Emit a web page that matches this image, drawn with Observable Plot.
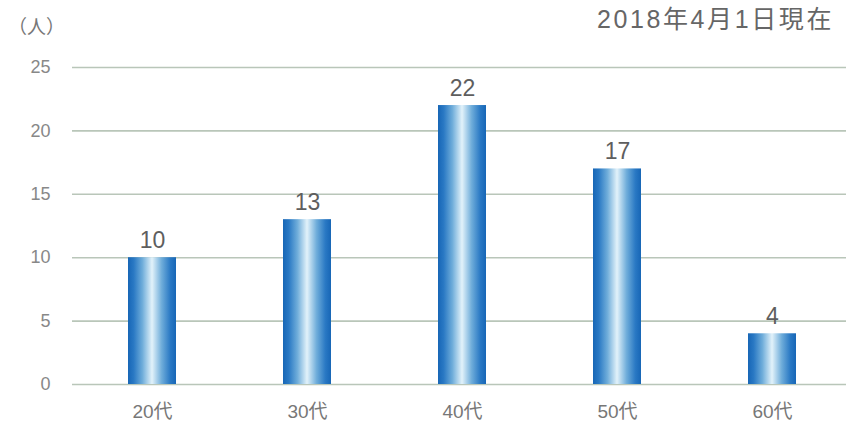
<!DOCTYPE html>
<html><head><meta charset="utf-8">
<script src="https://cdn.jsdelivr.net/npm/d3@7"></script>
<script src="https://cdn.jsdelivr.net/npm/@observablehq/plot@0.6"></script>
<style>
body{margin:0;background:#fff;}
#wrap{position:relative;width:846px;height:430px;font-family:"Liberation Sans","Noto Sans CJK JP",sans-serif;}
#title{position:absolute;right:12px;top:-1px;font-size:25px;color:#666;letter-spacing:2.6px;font-family:"Liberation Sans","Noto Sans CJK JP",sans-serif;}
#unit{position:absolute;left:8px;top:12px;font-size:19px;color:#777;font-family:"Noto Sans CJK JP",sans-serif;}
</style></head>
<body>
<div id="wrap"><div id="unit">（人）</div><div id="title">2018年4月1日現在</div></div>
<script>
const categories = ["20代","30代","40代","50代","60代"];
const values = [10,13,22,17,4];
const yTicks = [0,5,10,15,20,25];
const data = categories.map((c,i)=>({cat:c, v:values[i]}));

const defs = () => {
  const d = d3.create("svg:defs");
  const g = d.append("linearGradient").attr("id","barGrad").attr("x1",0).attr("x2",1).attr("y1",0).attr("y2",0);
  [[0,"#1766b6"],[0.12,"#2a79c4"],[0.3,"#6fadda"],[0.5,"#e2f2fa"],[0.7,"#6fadda"],[0.88,"#2a79c4"],[1,"#1766b6"]]
    .forEach(([o,c])=>g.append("stop").attr("offset",o).attr("stop-color",c));
  return d.node();
};

const chart = Plot.plot({
  width: 846, height: 430,
  marginLeft: 72, marginRight: 0, marginTop: 67, marginBottom: 46,
  style: {fontFamily: '"Liberation Sans","Noto Sans CJK JP",sans-serif', background: "transparent"},
  x: {domain: categories, range: [72, 851], paddingInner: 0.692, paddingOuter: 0.346, axis: null},
  y: {domain: [0,25], axis: null},
  marks: [
    defs,
    Plot.ruleY(yTicks, {stroke: "#b9c6b9", strokeWidth: 1.6}),
    Plot.text(yTicks, {y: d=>d, text: d=>String(d), frameAnchor: "left", dx: -22, textAnchor: "end", fontSize: 18, fill: "#888"}),
    Plot.barY(data, {x: "cat", y: "v", fill: "url(#barGrad)"}),
    Plot.text(data, {x: "cat", y: "v", text: d=>String(d.v), dy: -17, fontSize: 23, fill: "#5e5e5e"}),
    Plot.text(data, {x: "cat", y: 0, text: "cat", dy: 27, fontSize: 19, fill: "#777", letterSpacing: 1})
  ]
});
document.getElementById("wrap").appendChild(chart);
chart.style.position = "absolute"; chart.style.left = "0"; chart.style.top = "0";
</script>
</body></html>
